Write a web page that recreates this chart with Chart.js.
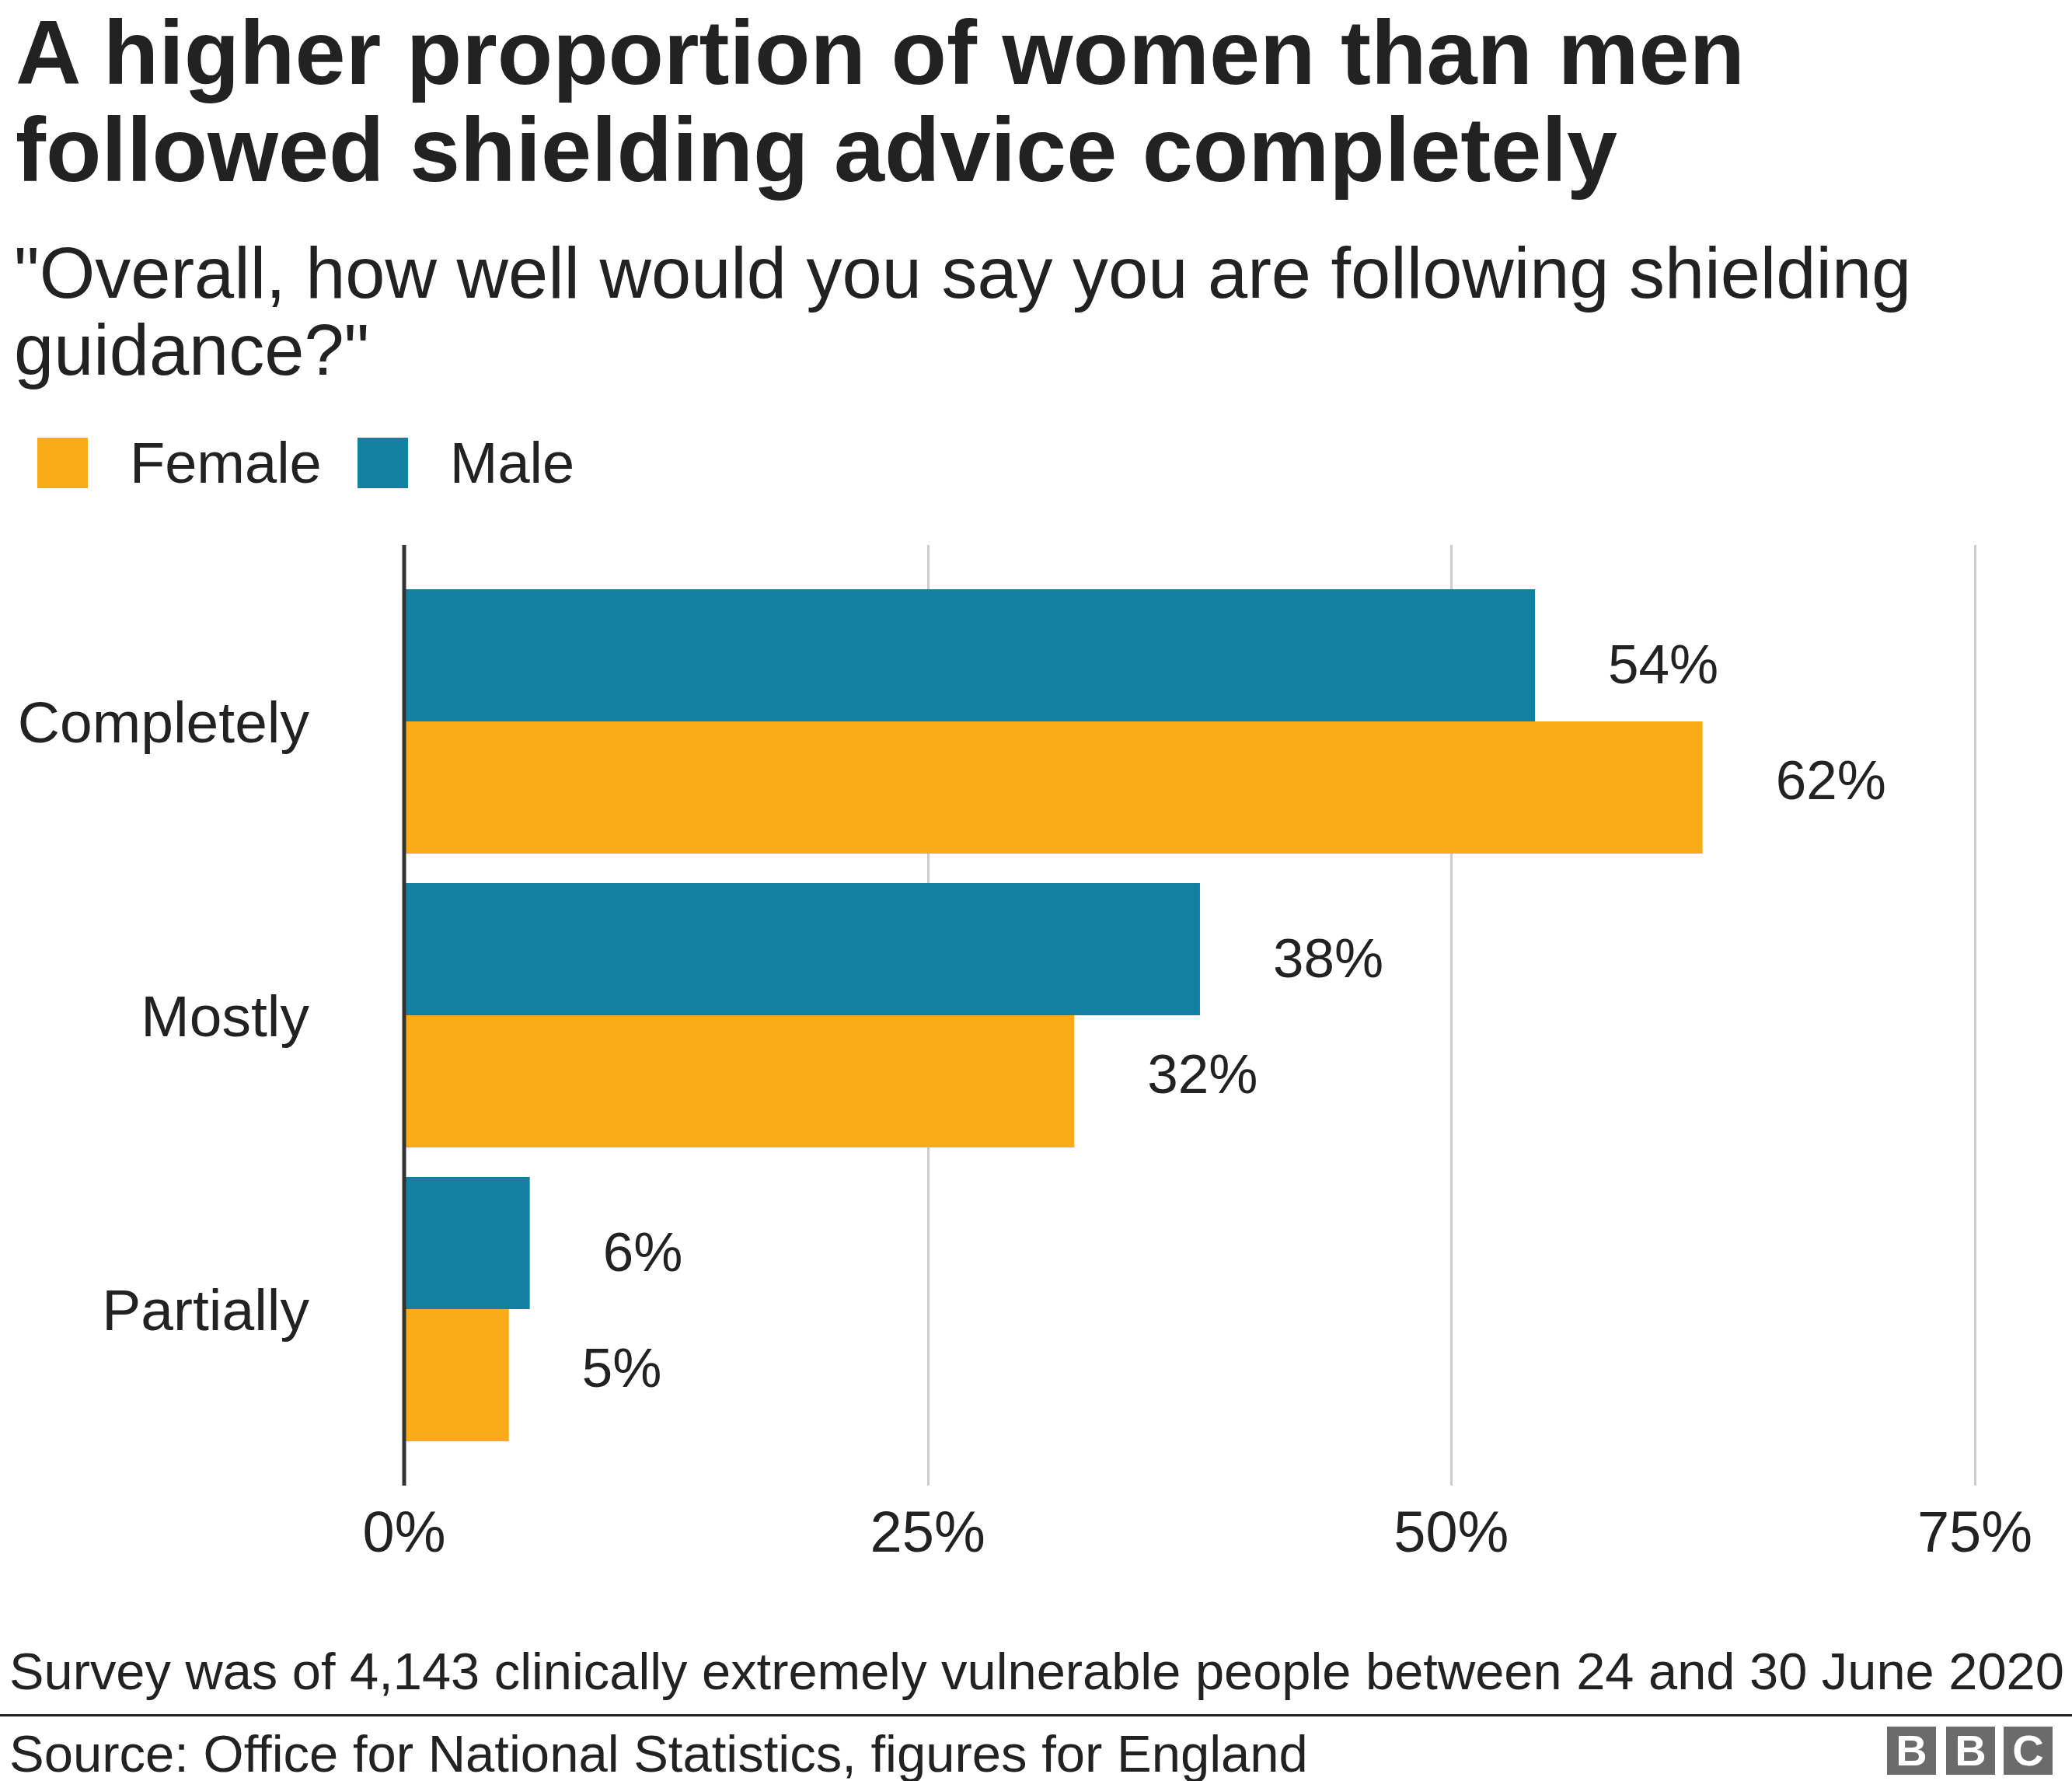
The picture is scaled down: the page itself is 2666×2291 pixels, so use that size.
<!DOCTYPE html>
<html>
<head>
<meta charset="utf-8">
<script src="https://cdn.jsdelivr.net/npm/chart.js@4.4.1/dist/chart.umd.min.js"></script>
<style>
  body { margin: 0; background: #fff; width: 2666px; height: 2291px; overflow: hidden; position: relative;
         font-family: "Liberation Sans", Arial, Helvetica, sans-serif; color: #222; }
  .abs { position: absolute; white-space: nowrap; }
  #title { left: 20px; top: 5px; font-size: 117px; line-height: 125px; font-weight: bold; }
  #subtitle { left: 18px; top: 302px; font-size: 92px; line-height: 99px; }
  #legend { left: 48px; top: 563px; display: flex; align-items: center; height: 65px; }
  .sw { width: 65px; height: 65px; margin-right: 54px; }
  .lt { font-size: 74px; line-height: 65px; margin-right: 46px; }
  #chartBox { left: 0; top: 640px; line-height: 0; }
  #note { left: 12px; top: 2110px; font-size: 66.8px; line-height: 80px; }
  #rule { left: 0; top: 2205px; width: 2666px; height: 3px; background: #222; }
  #source { left: 12px; top: 2216px; font-size: 67px; line-height: 80px; }
  .bbc { top: 2221px; width: 63px; height: 62px; background: #6b6b6b; color: #fff; font-weight: bold;
         font-size: 56px; line-height: 62px; text-align: center; }
</style>
</head>
<body>
<div id="title" class="abs">A higher proportion of women than men<br>followed shielding advice completely</div>
<div id="subtitle" class="abs">"Overall, how well would you say you are following shielding<br>guidance?"</div>
<div id="legend" class="abs"></div>
<div id="chartBox" class="abs"><canvas id="chart" width="2666" height="1420"></canvas></div>
<div id="note" class="abs">Survey was of 4,143 clinically extremely vulnerable people between 24 and 30 June 2020</div>
<div id="rule" class="abs"></div>
<div id="source" class="abs">Source: Office for National Statistics, figures for England</div>
<div class="abs bbc" style="left:2428px">B</div>
<div class="abs bbc" style="left:2504px">B</div>
<div class="abs bbc" style="left:2578px">C</div>

<script>
// Data
const categories = ['Completely', 'Mostly', 'Partially'];
const maleValues = [54, 38, 6];
const femaleValues = [62, 32, 5];
const xTicks = [0, 25, 50, 75];

const maleColor = '#1380A1';
const femaleColor = '#FAAB18';
const textColor = '#222222';
const fontFamily = '"Liberation Sans", Arial, Helvetica, sans-serif';

// Legend (Female first, like the original)
const legendItems = [['Female', femaleColor], ['Male', maleColor]];
const legendEl = document.getElementById('legend');
legendItems.forEach(([name, color]) => {
    const sw = document.createElement('div');
    sw.className = 'sw';
    sw.style.background = color;
    const txt = document.createElement('div');
    txt.className = 'lt';
    txt.textContent = name;
    legendEl.appendChild(sw);
    legendEl.appendChild(txt);
});

const lineExt = 38; // grid lines run a bit past the bars

// Grid lines + zero axis line
const axisLines = {
    id: 'axisLines',
    beforeDatasetsDraw(chart) {
        const { ctx, chartArea, scales: { x } } = chart;
        ctx.save();
        ctx.lineWidth = 3;
        ctx.strokeStyle = '#cccccc';
        xTicks.forEach(v => {
            if (v === 0) return;
            const px = Math.round(x.getPixelForValue(v)) + 0.5;
            ctx.beginPath();
            ctx.moveTo(px, chartArea.top - lineExt);
            ctx.lineTo(px, chartArea.bottom + lineExt);
            ctx.stroke();
        });
        ctx.restore();
    },
    afterDatasetsDraw(chart) {
        const { ctx, chartArea, scales: { x } } = chart;
        const px = x.getPixelForValue(0);
        ctx.save();
        ctx.lineWidth = 5;
        ctx.strokeStyle = '#333333';
        ctx.beginPath();
        ctx.moveTo(px, chartArea.top - lineExt);
        ctx.lineTo(px, chartArea.bottom + lineExt);
        ctx.stroke();
        ctx.restore();
    }
};

// Value labels to the right of each bar
const valueLabels = {
    id: 'valueLabels',
    afterDatasetsDraw(chart) {
        const ctx = chart.ctx;
        const y = chart.scales.y;
        ctx.save();
        ctx.font = '71px ' + fontFamily;
        ctx.fillStyle = textColor;
        ctx.textAlign = 'left';
        ctx.textBaseline = 'middle';
        chart.data.datasets.forEach((ds, i) => {
            chart.getDatasetMeta(i).data.forEach((bar, j) => {
                const cy = y.getPixelForValue(j);
                const ly = bar.y + (cy - bar.y) * 0.12 + 6;
                ctx.fillText(ds.data[j] + '%', bar.x + 94, ly);
            });
        });
        ctx.restore();
    }
};

new Chart(document.getElementById('chart'), {
    type: 'bar',
    data: {
        labels: categories,
        datasets: [
            { label: 'Male', data: maleValues, backgroundColor: maleColor },
            { label: 'Female', data: femaleValues, backgroundColor: femaleColor }
        ]
    },
    options: {
        indexAxis: 'y',
        responsive: false,
        animation: false,
        devicePixelRatio: 1,
        categoryPercentage: 0.9,
        barPercentage: 1.0,
        layout: { padding: { top: 99, right: 125, bottom: 37, left: 0 } },
        plugins: {
            legend: { display: false },
            tooltip: { enabled: false }
        },
        scales: {
            x: {
                min: 0,
                max: 75,
                afterBuildTicks: scale => { scale.ticks = xTicks.map(v => ({ value: v })); },
                afterFit: scale => {
                    scale.height = 150;
                    scale.paddingLeft = 0;
                    scale.paddingRight = 0;
                },
                grid: { display: false },
                border: { display: false },
                ticks: {
                    padding: 50,
                    color: textColor,
                    font: { size: 74, family: fontFamily },
                    callback: v => v + '%'
                }
            },
            y: {
                afterFit: scale => {
                    scale.width = 520;
                    scale.paddingTop = 0;
                    scale.paddingBottom = 0;
                },
                grid: { display: false, drawTicks: false },
                border: { display: false },
                ticks: {
                    padding: 122,
                    labelOffset: 6,
                    color: textColor,
                    font: { size: 75, family: fontFamily }
                }
            }
        }
    },
    plugins: [axisLines, valueLabels]
});
</script>
</body>
</html>
